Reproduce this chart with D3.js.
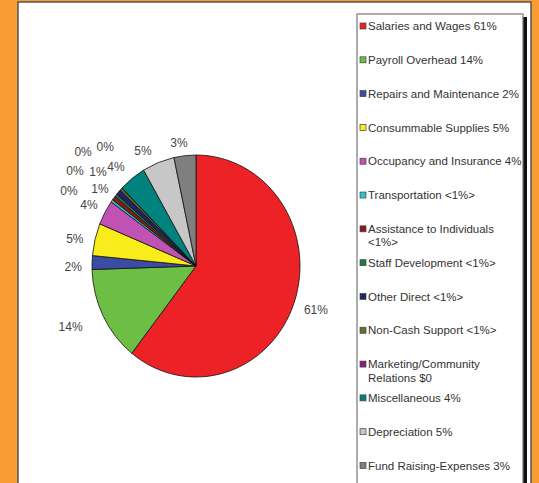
<!DOCTYPE html>
<html>
<head>
<meta charset="utf-8">
<script src="https://cdn.jsdelivr.net/npm/d3@7"></script>
<style>
  html, body { margin: 0; padding: 0; background: #F99B33; }
  svg { display: block; }
  text { font-family: "Liberation Sans", Arial, sans-serif; }
</style>
</head>
<body>
<svg id="chart" width="539" height="483"></svg>
<script>
// ---- data ----
const categories = [
  "Salaries and Wages", "Payroll Overhead", "Repairs and Maintenance",
  "Consummable Supplies", "Occupancy and Insurance", "Transportation",
  "Assistance to Individuals", "Staff Development", "Other Direct",
  "Non-Cash Support", "Marketing/Community Relations", "Miscellaneous",
  "Depreciation", "Fund Raising-Expenses"
];
const values = [60.6, 13.9, 2.0, 4.7, 3.6, 0.4, 0.6, 0.4, 0.8, 0.4, 0, 4.2, 5.0, 3.4];
const pctLabels = ["61%", "14%", "2%", "5%", "4%", "0%", "1%", "0%", "1%", "0%", "0%", "4%", "5%", "3%"];
const legendLabels = [
  ["Salaries and Wages 61%"],
  ["Payroll Overhead 14%"],
  ["Repairs and Maintenance 2%"],
  ["Consummable Supplies 5%"],
  ["Occupancy and Insurance 4%"],
  ["Transportation <1%>"],
  ["Assistance to Individuals", "<1%>"],
  ["Staff Development <1%>"],
  ["Other Direct <1%>"],
  ["Non-Cash Support <1%>"],
  ["Marketing/Community", "Relations $0"],
  ["Miscellaneous 4%"],
  ["Depreciation 5%"],
  ["Fund Raising-Expenses 3%"]
];
const colors = [
  "#EC2227", "#6DBE45", "#3A4DA3", "#F8EC1A", "#BF52B2", "#2EC4C6",
  "#8B1A1A", "#1E7A3E", "#1F2466", "#6B6B2B", "#80207F", "#00827F",
  "#C7C7C7", "#7F7F7F"
];
// label nudges (layout only, px)
const labelNudge = [
  [2, 0.5], [-14, 1], [2, 5], [0, 5], [2.4, 3.2], [-26, 3], [2.6, 4.6],
  [-24.8, -10], [-5, -6], [-23, -21.6], [-2, -25.4], [-3.5, 6.3], [-7.8, 9.2], [-3.7, 9.4]
];

// ---- layout ----
const svg = d3.select("#chart");
const W = 539, H = 483;
const cx = 196, cy = 266, rx = 104, ry = 111;

// white panel
svg.append("rect").attr("x", 18).attr("y", 2).attr("width", 513).attr("height", H + 10)
  .attr("fill", "#fff").attr("stroke", "#555").attr("stroke-width", 1.5);

const data = categories.map((c, i) => ({ cat: c, value: values[i], color: colors[i], pct: pctLabels[i], leg: legendLabels[i], nudge: labelNudge[i] }));

const pie = d3.pie().sort(null).value(d => d.value).startAngle(0).endAngle(2 * Math.PI);
const arcs = pie(data);
const arc = d3.arc().innerRadius(0).outerRadius(rx);

const gPie = svg.append("g").attr("transform", `translate(${cx},${cy}) scale(1,${ry / rx})`);
gPie.selectAll("path").data(arcs).join("path")
  .attr("d", arc)
  .attr("fill", d => d.data.color)
  .attr("stroke", "#111")
  .attr("stroke-width", 0.8)
  .attr("vector-effect", "non-scaling-stroke")
  .attr("stroke-linejoin", "round");

// pie labels
svg.append("g").selectAll("text").data(arcs).join("text")
  .attr("x", d => { const a = (d.startAngle + d.endAngle) / 2; return cx + rx * 1.2 * Math.sin(a) + d.data.nudge[0]; })
  .attr("y", d => { const a = (d.startAngle + d.endAngle) / 2; return cy - ry * 1.2 * Math.cos(a) + d.data.nudge[1]; })
  .attr("dy", "0.36em")
  .attr("text-anchor", "middle")
  .attr("font-size", 12)
  .attr("fill", "#444")
  .text(d => d.data.pct);

// legend
const lgX = 357, lgY = 14, lgW = 166, lgH = 490;
svg.append("rect").attr("x", lgX + 4).attr("y", lgY + 3).attr("width", lgW).attr("height", lgH).attr("fill", "#111");
svg.append("rect").attr("x", lgX).attr("y", lgY).attr("width", lgW).attr("height", lgH)
  .attr("fill", "#fff").attr("stroke", "#777").attr("stroke-width", 1.2);

const yLeg = d3.scalePoint().domain(categories).range([26, 465.5]);
const items = svg.append("g").selectAll("g").data(data).join("g")
  .attr("transform", d => `translate(0,${yLeg(d.cat)})`);
items.append("rect").attr("x", 360).attr("y", -3).attr("width", 6).attr("height", 6)
  .attr("fill", d => d.color).attr("stroke", "#444").attr("stroke-width", 0.7);
items.append("text")
  .attr("x", 368).attr("y", 0)
  .attr("font-size", 11.5).attr("fill", "#333")
  .selectAll("tspan").data(d => d.leg).join("tspan")
  .attr("x", 368).attr("dy", (t, i) => i === 0 ? "0.36em" : "1.17em")
  .text(t => t);
</script>
</body>
</html>
